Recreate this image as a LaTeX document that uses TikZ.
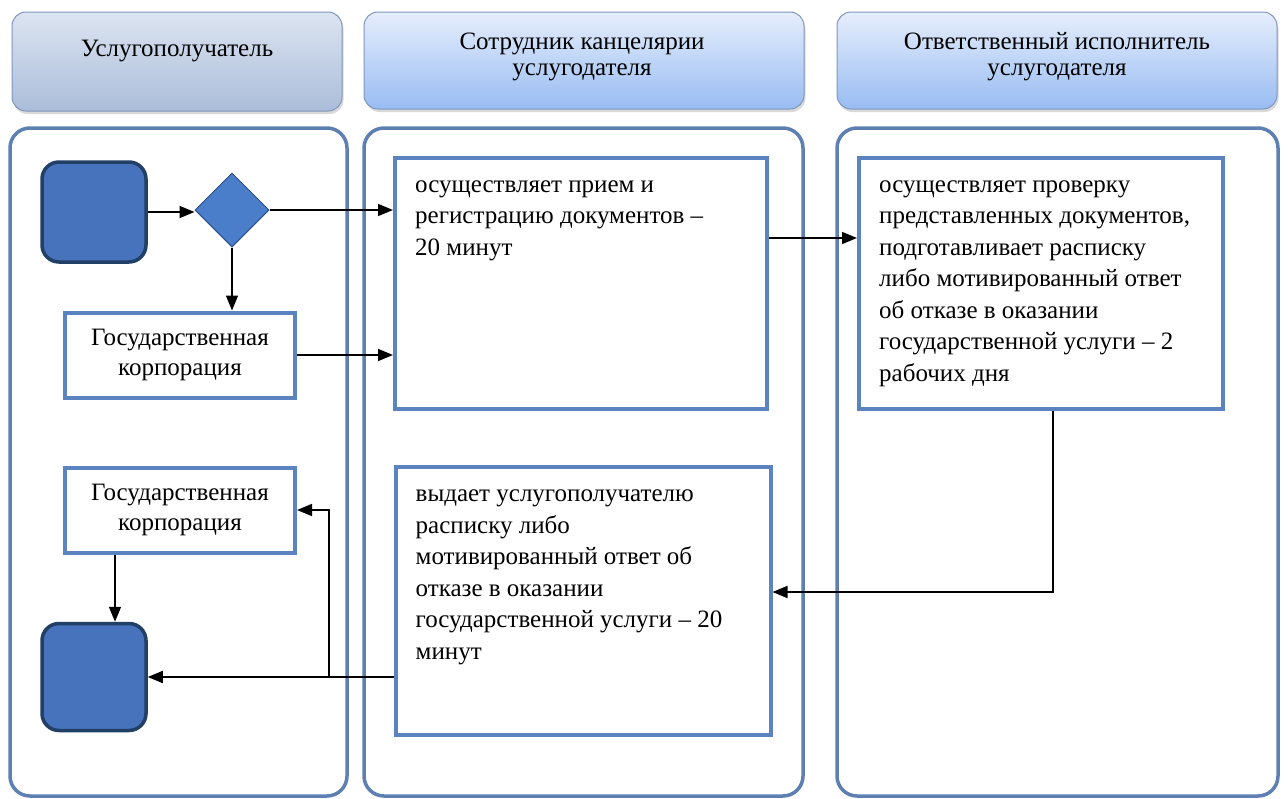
\documentclass[tikz,border=0pt]{standalone}
\usepackage{fontspec}
\setmainfont{Liberation Serif}
\usepackage{tikz}
\usetikzlibrary{positioning}
\usetikzlibrary{arrows.meta}
\usetikzlibrary{shapes.geometric}
\usetikzlibrary{shadows}
\definecolor{lanecol}{HTML}{5E7FB1}
\definecolor{boxcol}{HTML}{5A83C0}
\definecolor{termfill}{HTML}{4673BB}
\definecolor{termline}{HTML}{223F66}
\definecolor{gatefill}{HTML}{4A7ECB}
\definecolor{gateline}{HTML}{2C4F86}
\definecolor{headline}{HTML}{7F97BC}
\definecolor{headtop}{HTML}{E6EEFC}
\definecolor{headbot}{HTML}{98BCF2}
\definecolor{headtopgr}{HTML}{DCE4F1}
\definecolor{headbotgr}{HTML}{AABDD9}
\tikzset{
  lane/.style={draw=lanecol, line width=3.5pt, rounded corners=20pt},
  head/.style={draw=headline, line width=1pt, rounded corners=14pt,
    top color=headtop, bottom color=headbot,
    drop shadow={opacity=0.3, shadow xshift=1.5pt, shadow yshift=-3pt}},
  procbox/.style={draw=boxcol, line width=4pt, fill=white, inner sep=0pt},
  term/.style={draw=termline, fill=termfill, line width=3.5pt, rounded corners=17pt},
  gate/.style={diamond, draw=gateline, fill=gatefill, line width=1pt,
    minimum width=74pt, minimum height=74pt, inner sep=0pt},
  txt/.style={anchor=north west, align=left, inner sep=0pt,
    font=\fontsize{25}{31.5}\selectfont},
  headtxt/.style={align=center, inner sep=0pt,
    font=\fontsize{25}{26}\selectfont},
  arr/.style={-{Triangle[length=15pt,width=12pt]}, line width=1.6pt}
}
\begin{document}
\begin{tikzpicture}[x=1pt, y=-1pt]
\useasboundingbox (0,0) rectangle (1288,798);

% headers
\draw[head, top color=headtopgr, bottom color=headbotgr] (12,12) rectangle (342,111);
\draw[head] (364,12) rectangle (804,109);
\draw[head] (837,12) rectangle (1277,109);
\node[headtxt] (h1) at (177,51) {Услугополучатель};
\node[headtxt] (h2) at (582,57) {Сотрудник канцелярии\\услугодателя};
\node[headtxt] (h3) at (1057,57) {Ответственный исполнитель\\услугодателя};

% lanes
\draw[lane] (10,128) rectangle (347,796);
\draw[lane] (364,128) rectangle (803,796);
\draw[lane] (837,128) rectangle (1278,796);

% left lane
\node[term, minimum width=104pt, minimum height=100pt] (start) at (94,212) {};
\node[gate] (gate) at (232,210) {};
\node[procbox, minimum width=230pt, minimum height=85pt, font=\fontsize{25}{30}\selectfont, align=center] (corp1) at (180,355) {Государственная\\корпорация};
\node[procbox, minimum width=230pt, minimum height=85pt, font=\fontsize{25}{30}\selectfont, align=center] (corp2) at (180,510) {Государственная\\корпорация};
\node[term, minimum width=104pt, minimum height=107pt] (finish) at (94,677) {};

% middle lane
\node[procbox, minimum width=372pt, minimum height=251pt] (recv) at (581,283) {};
\node[txt] (recvtxt) at ([shift={(22,25)}]recv.north west)
  {осуществляет прием и\\регистрацию документов –\\20 минут};
\node[procbox, minimum width=375pt, minimum height=268pt] (issue) at (583,601) {};
\node[txt] (issuetxt) at ([shift={(22,25)}]issue.north west)
  {выдает услугополучателю\\расписку либо\\мотивированный ответ об\\отказе в оказании\\государственной услуги – 20\\минут};

% right lane
\node[procbox, minimum width=364pt, minimum height=251pt] (check) at (1041,283) {};
\node[txt] (checktxt) at ([shift={(22,25)}]check.north west)
  {осуществляет проверку\\представленных документов,\\подготавливает расписку\\либо мотивированный ответ\\об отказе в оказании\\государственной услуги – 2\\рабочих дня};

\coordinate (c1) at (0,238);
\coordinate (c2) at (1053,592);
\coordinate (c3) at (329,677);
\coordinate (c4) at (115,0);

% connectors
\draw[arr] (start.east) -- (start.east -| gate.west);
\draw[arr] (gate.east) -- (gate.east -| recv.west);
\draw[arr] (gate.south) -- (gate.south |- corp1.north);
\draw[arr] (corp1.east) -- (corp1.east -| recv.west);
\draw[arr] (c1 -| recv.east) -- (c1 -| check.west);
\draw[arr] (c2 |- check.south) -- (c2) -- (c2 -| issue.east);
\draw[arr] (c3 -| issue.west) -- (c3 -| finish.east);
\draw[arr] (c3) -- (c3 |- corp2.east) -- (corp2.east);
\draw[arr] (c4 |- corp2.south) -- (c4 |- finish.north);
\end{tikzpicture}
\end{document}
